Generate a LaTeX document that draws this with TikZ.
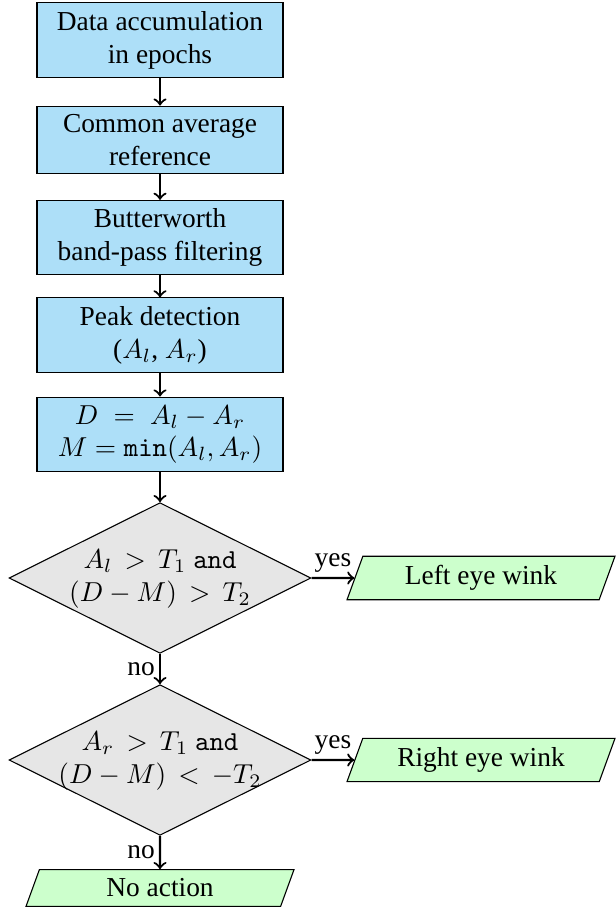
\documentclass[tikz,border=0pt]{standalone}
\usepackage[no-math]{fontspec}
\setmainfont{Liberation Serif}
\usetikzlibrary{shapes.geometric}
\definecolor{boxblue}{RGB}{173,223,248}
\definecolor{iogreen}{RGB}{204,255,204}
\definecolor{decgray}{RGB}{230,230,230}
\newcommand{\dectext}[2]{\makebox[62pt][c]{\begin{tabular}{@{}c@{}}#1\\#2\end{tabular}}}
\begin{document}
\begin{tikzpicture}[x=0.365pt,y=-0.365pt,
  procbox/.style={draw, fill=boxblue, align=center, minimum width=89.8pt, inner sep=3pt},
  decbox/.style={draw, fill=decgray, diamond, aspect=2, inner sep=0pt, minimum width=110.2pt, minimum height=55pt},
  iobox/.style={draw, fill=iogreen, trapezium, trapezium left angle=70, trapezium right angle=110, trapezium stretches body, minimum width=97.8pt},
  flow/.style={->, thick},
  lbl/.style={inner sep=1.5pt}]
\useasboundingbox (0,0) rectangle (616,907);
\node[procbox] (b1) at (160,40) {Data accumulation\\in epochs};
\node[procbox] (b2) at (160,140) {Common average\\reference};
\node[procbox] (b3) at (160,237.5) {Butterworth\\band-pass filtering};
\node[procbox] (b4) at (160,335) {Peak detection\\($A_l$, $A_r$)};
\node[procbox] (b5) at (160,434.5) {$D\;=\;A_l-A_r$\\$M=\mathtt{min}(A_l,A_r)$};
\node[decbox] (d1) at (160,578) {\dectext{$A_l\,>\,T_1$ \texttt{and}}{$(D-M)\,>\,T_2$}};
\node[decbox] (d2) at (160,760) {\dectext{$A_r\,>\,T_1$ \texttt{and}}{$(D-M)\,<\,-T_2$}};
\node[iobox] (left) at (481,578) {Left eye wink};
\node[iobox] (right) at (481,760) {Right eye wink};
\node[iobox] (none) at (160,888) {No action};
\draw[flow] (b1) -- (b2);
\draw[flow] (b2) -- (b3);
\draw[flow] (b3) -- (b4);
\draw[flow] (b4) -- (b5);
\draw[flow] (b5) -- (d1);
\draw[flow] (d1.east) -- node[above, lbl] {yes} (left.west);
\draw[flow] (d1.south) -- node[left, lbl] {no} (d2.north);
\draw[flow] (d2.east) -- node[above, lbl] {yes} (right.west);
\draw[flow] (d2.south) -- node[left, lbl] {no} (none.north);
\end{tikzpicture}
\end{document}
